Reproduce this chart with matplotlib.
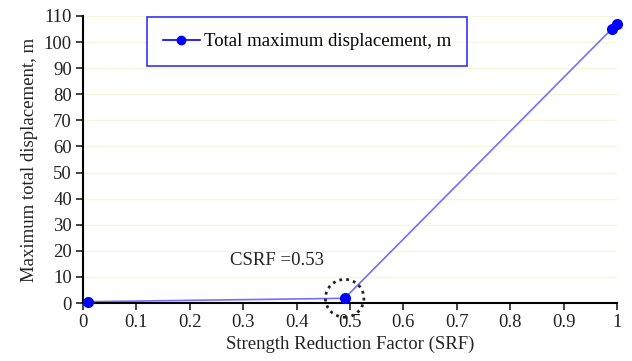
import matplotlib.pyplot as plt
import matplotlib.patches as mpatches
import numpy as np

plt.rcParams['font.family'] = ['Liberation Serif', 'DejaVu Serif']

# data
srf = [0.01, 0.49, 0.99, 1.0]
disp = [0.5, 1.8, 105.0, 107.0]
x_ticks = [0, 0.1, 0.2, 0.3, 0.4, 0.5, 0.6, 0.7, 0.8, 0.9, 1]
x_labels = ['0', '0.1', '0.2', '0.3', '0.4', '0.5', '0.6', '0.7', '0.8', '0.9', '1']
y_ticks = np.arange(0, 111, 10)

fig = plt.figure(figsize=(6.32, 3.61), dpi=100)
ax = fig.add_axes([83/632, 1-303/361, 534/632, 287/361])

for yt in y_ticks[1:]:
    ax.axhline(yt, color='#f6f6dc', linewidth=1, zorder=0)

ax.plot(srf, disp, color='#7070ff', linewidth=1.2, zorder=2)
ax.plot(srf, disp, linestyle='none', marker='o', markersize=7,
        color='#0000ff', zorder=3, clip_on=False)

# dotted circle around the critical point
circ = mpatches.Ellipse((0.49, 1.8), 0.072, 14.5, fill=False,
                        linestyle=(0, (1, 1.5)), linewidth=2, edgecolor='#222222',
                        zorder=4, clip_on=False)
ax.add_patch(circ)
ax.text(0.276, 14.5, 'CSRF =0.53', fontsize=13.5, color='#222222')

ax.set_xlim(0, 1)
ax.set_ylim(0, 110)
ax.set_xticks(x_ticks)
ax.set_xticklabels(x_labels)
ax.set_yticks(y_ticks)
ax.tick_params(direction='out', length=5, width=1.2, labelsize=13.5, colors='#222222', pad=3)

ax.spines['top'].set_visible(False)
ax.spines['right'].set_visible(False)
ax.spines['left'].set_linewidth(1.5)
ax.spines['bottom'].set_linewidth(1.5)

ax.set_xlabel('Strength Reduction Factor (SRF)', fontsize=13.5, color='#222222', labelpad=3)
ax.set_ylabel('Maximum total displacement, m', fontsize=13.5, color='#222222', labelpad=4)

h, = ax.plot([], [], color='#0000ff', marker='o', markersize=6, linewidth=1.2)
leg = ax.legend([h], ['Total maximum displacement, m'], loc='upper left',
                bbox_to_anchor=(64/534, 1.0 - 1/287), fontsize=13.5, fancybox=False,
                borderpad=0.85, handlelength=1.95, handletextpad=0.25, borderaxespad=0)
leg.get_frame().set_edgecolor('#0000ff')
leg.get_frame().set_linewidth(1.2)

fig.savefig('out.png', dpi=100)
